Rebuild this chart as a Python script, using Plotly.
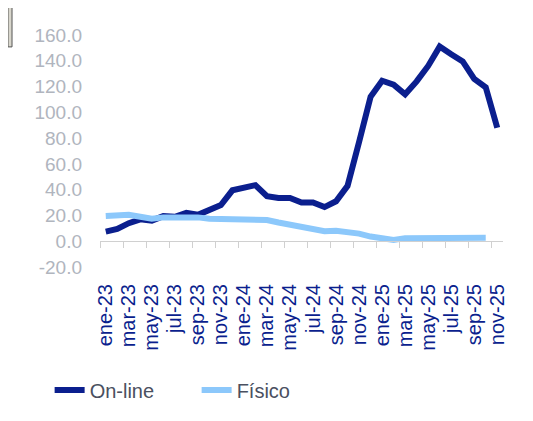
import plotly.graph_objects as go

# meses ene-23 .. nov-25
meses = ["ene-23", "feb-23", "mar-23", "abr-23", "may-23", "jun-23", "jul-23", "ago-23",
         "sep-23", "oct-23", "nov-23", "dic-23",
         "ene-24", "feb-24", "mar-24", "abr-24", "may-24", "jun-24", "jul-24", "ago-24",
         "sep-24", "oct-24", "nov-24", "dic-24",
         "ene-25", "feb-25", "mar-25", "abr-25", "may-25", "jun-25", "jul-25", "ago-25",
         "sep-25", "oct-25", "nov-25"]

online = [7.5, 9.5, 14, 17, 16, 19.5, 19, 22, 20.5, 24, 28, 39.5,
          42, 43.5, 35, 33.5, 33.5, 30, 30, 26.5, 31, 43,
          77, 112, 124.5, 121.5, 114, 124, 136, 151, 145, 139.5,
          126, 119.5, 88]

fisico = [19.5, 20.5, 20.5, 19, 17.5, 18.5, 18.5, 19.5, 18.5, 17.5, 17.5, 17.5,
          17.5, 17.5, 16.5, 14.5, 12.8, 11.3, 9.7, 7.7, 8.2, 7.4,
          5.9, 3.6, 2, 1, 2.4, 2.4, 2.4, 1.6, 1.6, 2.1,
          2.6, 2.6, None]

y_ticks = [-20, 0, 20, 40, 60, 80, 100, 120, 140, 160]
y_labels = ["-20.0", "0.0", "20.0", "40.0", "60.0", "80.0", "100.0", "120.0", "140.0", "160.0"]

navy = "#0b1f8e"
celeste = "#8cc8fb"

idx = list(range(len(meses)))

fig = go.Figure()
fig.add_trace(go.Scatter(x=idx, y=online, name="On-line", mode="lines",
                         line=dict(color=navy, width=6)))
fig.add_trace(go.Scatter(x=idx, y=fisico, name="Físico", mode="lines",
                         line=dict(color=celeste, width=6)))
# eje auxiliar para la línea en cero con marcas
fig.add_trace(go.Scatter(x=idx, y=[None] * len(idx), xaxis="x2", showlegend=False,
                         hoverinfo="skip"))

# la página añade 8px de margen al body
fig.update_layout(
    width=525, height=413,
    margin=dict(l=92, r=30, t=27, b=152),
    plot_bgcolor="white", paper_bgcolor="white",
    font=dict(family="Liberation Sans, Arial", size=19),
    xaxis=dict(range=[-0.5, 34.5], tickvals=idx[::2], ticktext=meses[::2],
               tickangle=-90, showgrid=False, zeroline=False,
               ticks="outside", ticklen=8, tickcolor="rgba(0,0,0,0)",
               tickfont=dict(color=navy, size=20)),
    xaxis2=dict(range=[-0.5, 34.5], overlaying="x", anchor="free",
                position=20 / 180, showline=True, linecolor="#d0d0d0", linewidth=1,
                ticks="outside", ticklen=6, tickcolor="#d0d0d0",
                tickvals=[i - 0.5 for i in idx[::2]], showticklabels=False,
                showgrid=False, zeroline=False),
    yaxis=dict(range=[-20, 160], tickvals=y_ticks, ticktext=y_labels, showgrid=False,
               zeroline=False, showline=False, ticklabelstandoff=17,
               tickfont=dict(color="#b0b5be", size=19)),
    legend=dict(orientation="h", x=-0.125, y=-0.53, xanchor="left", yanchor="middle",
                font=dict(color="#4a5060", size=20), entrywidth=102,
                entrywidthmode="pixels"),
    shapes=[dict(type="rect", xref="paper", yref="paper", x0=-0.2283, x1=-0.2183,
                 y0=0.9487, y1=1.2, fillcolor="#d8d6cc",
                 line=dict(color="#555555", width=1))],
)

fig.write_html("out.html")
